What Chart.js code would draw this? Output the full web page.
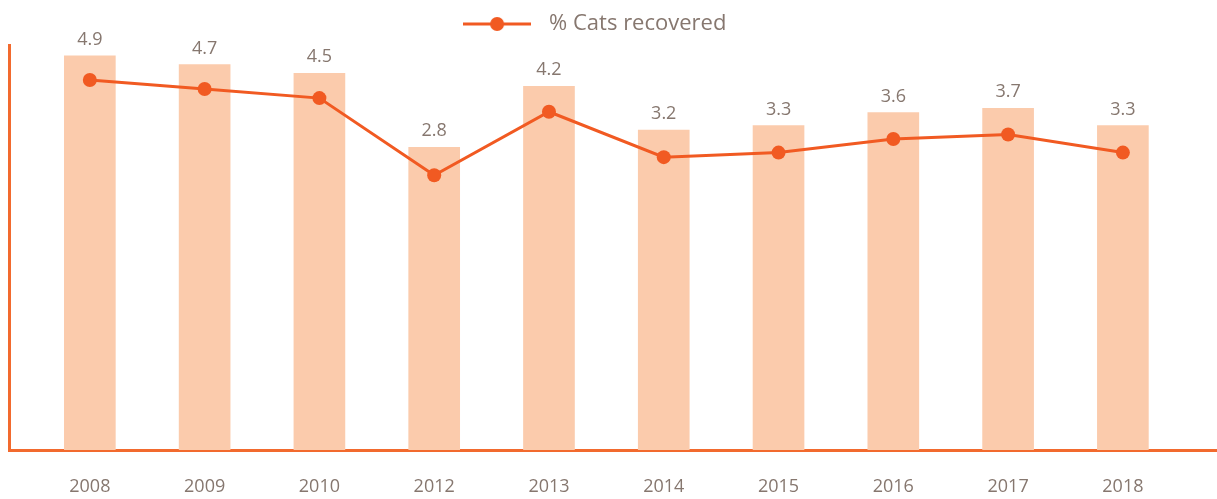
<!DOCTYPE html>
<html>
<head>
<meta charset="utf-8">
<script src="https://cdn.jsdelivr.net/npm/chart.js@4.4.1/dist/chart.umd.min.js"></script>
<style>
  html, body { margin: 0; padding: 0; background: #fff; }
  #wrap { width: 1217px; height: 499px; }
</style>
</head>
<body>
<div id="wrap"><canvas id="catsChart" width="1217" height="499"></canvas></div>
<script>
// Chart data
const years = ['2008', '2009', '2010', '2012', '2013', '2014', '2015', '2016', '2017', '2018'];
const recovered = [4.9, 4.7, 4.5, 2.8, 4.2, 3.2, 3.3, 3.6, 3.7, 3.3];
const seriesLabel = '% Cats recovered';

// axis ranges (bars and line sit on separate, hidden scales)
const X_MIN = -0.70, X_MAX = 9.82;
const BAR_MIN = -4.14, BAR_MAX = 5.15;
const LINE_MIN = -3.25, LINE_MAX = 5.67;

const ORANGE = '#F15A22';
const AXIS = '#F26A2E';
const PEACH = '#FBCBAC';
const TEXT = '#86776F';
const FONT = '"Open Sans", "Noto Sans", sans-serif';
const LEGEND_SHIFT = -22;

// line + dot marker for the legend
function legendMarker() {
    const c = document.createElement('canvas');
    c.width = 68;
    c.height = 16;
    const g = c.getContext('2d');
    g.strokeStyle = ORANGE;
    g.lineWidth = 3;
    g.beginPath();
    g.moveTo(0, 8);
    g.lineTo(68, 8);
    g.stroke();
    g.fillStyle = ORANGE;
    g.beginPath();
    g.arc(34, 8, 7, 0, Math.PI * 2);
    g.fill();
    return c;
}

// value labels above each bar
const barValueLabels = {
    id: 'barValueLabels',
    afterDatasetsDraw(chart) {
        const meta = chart.getDatasetMeta(1);
        const ctx = chart.ctx;
        ctx.save();
        ctx.font = '18px ' + FONT;
        ctx.fillStyle = TEXT;
        ctx.textAlign = 'center';
        ctx.textBaseline = 'alphabetic';
        meta.data.forEach((bar, i) => {
            ctx.fillText(recovered[i].toFixed(1), bar.x, bar.y - 11);
        });
        ctx.restore();
    }
};

// nudge the legend a bit left of centre, like the original
const legendNudge = {
    id: 'legendNudge',
    afterLayout(chart) {
        if (chart.legend) {
            chart.legend.left += LEGEND_SHIFT;
            chart.legend.right += LEGEND_SHIFT;
        }
    }
};

const points = recovered.map((v, i) => ({ x: i, y: v }));

new Chart(document.getElementById('catsChart'), {
    data: {
        datasets: [
            {
                type: 'line',
                label: seriesLabel,
                data: points,
                borderColor: ORANGE,
                backgroundColor: ORANGE,
                borderWidth: 3,
                pointRadius: 7,
                pointHoverRadius: 7,
                pointBackgroundColor: ORANGE,
                pointBorderWidth: 0,
                tension: 0,
                xAxisID: 'x',
                yAxisID: 'y1',
                order: 0
            },
            {
                type: 'bar',
                label: 'bars',
                data: points,
                base: BAR_MIN,
                backgroundColor: PEACH,
                borderWidth: 0,
                barThickness: 51,
                xAxisID: 'x',
                yAxisID: 'y',
                order: 1
            }
        ]
    },
    options: {
        responsive: false,
        devicePixelRatio: 1,
        animation: false,
        layout: {
            autoPadding: false,
            padding: { left: 9.5, right: 0, top: 0, bottom: 0 }
        },
        scales: {
            x: {
                type: 'linear',
                position: 'bottom',
                offset: false,
                min: X_MIN,
                max: X_MAX,
                grid: { display: false, drawTicks: false },
                border: { display: true, color: AXIS, width: 3 },
                ticks: {
                    stepSize: 1,
                    includeBounds: false,
                    autoSkip: false,
                    maxRotation: 0,
                    padding: 26,
                    color: TEXT,
                    font: { family: FONT, size: 18 },
                    callback: (v) => Number.isInteger(v) ? years[v] : ''
                },
                afterFit: (scale) => { scale.height = 49; }
            },
            y: {
                position: 'left',
                min: BAR_MIN,
                max: BAR_MAX,
                grid: { display: false, drawTicks: false },
                border: { display: true, color: AXIS, width: 3 },
                ticks: { display: false }
            },
            y1: {
                display: false,
                min: LINE_MIN,
                max: LINE_MAX
            }
        },
        plugins: {
            legend: {
                position: 'top',
                labels: {
                    usePointStyle: true,
                    pointStyle: legendMarker(),
                    pointStyleWidth: 82,
                    padding: 13,
                    color: TEXT,
                    font: { family: FONT, size: 22 },
                    filter: (item) => item.datasetIndex === 0
                }
            },
            tooltip: { enabled: false }
        }
    },
    plugins: [barValueLabels, legendNudge]
});
</script>
</body>
</html>
